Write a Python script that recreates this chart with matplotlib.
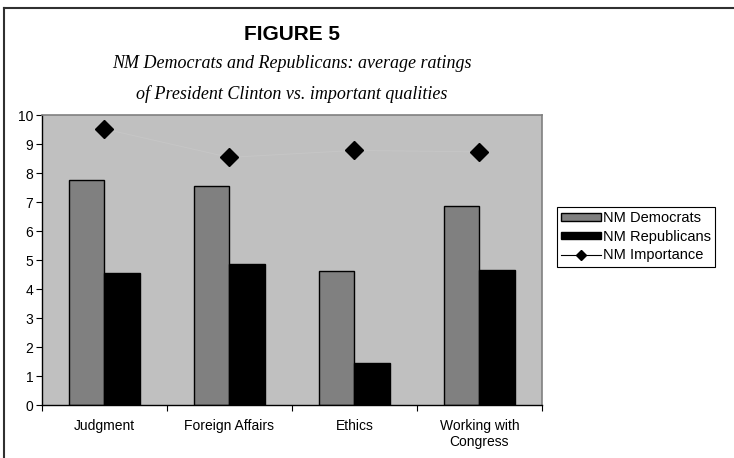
import matplotlib
matplotlib.use("Agg")
import matplotlib.pyplot as plt
from matplotlib.patches import Patch
from matplotlib.lines import Line2D
import numpy as np

categories = ["Judgment", "Foreign Affairs", "Ethics", "Working with\nCongress"]
democrats = [7.77, 7.57, 4.63, 6.85]
republicans = [4.57, 4.86, 1.45, 4.65]
importance = [9.52, 8.54, 8.78, 8.73]
y_ticks = list(range(0, 11))

W, H = 734, 458
fig = plt.figure(figsize=(W / 100, H / 100), dpi=100)
fig.patch.set_facecolor("white")

# outer frame (top and left edges visible)
fig.add_artist(Line2D([4 / W, 1.0], [1 - 8 / H, 1 - 8 / H], color="#303030", lw=1.5,
                      transform=fig.transFigure))
fig.add_artist(Line2D([4 / W, 4 / W], [1 - 8 / H, 0.0], color="#303030", lw=1.5,
                      transform=fig.transFigure))

ax = fig.add_axes([41.7 / W, (H - 405.3) / H, 500.3 / W, 290.3 / H])
ax.set_facecolor("#c0c0c0")

x = np.arange(len(categories))
bw = 1 / 3.5
ax.bar(x - bw / 2, democrats, width=bw, color="#808080", edgecolor="black", linewidth=1.0, zorder=2)
ax.bar(x + bw / 2, republicans, width=bw, color="black", edgecolor="black", linewidth=1.0, zorder=2)
ax.plot(x, importance, color="#c6c6c6", lw=0.7, zorder=3)
ax.plot(x, importance, linestyle="none", marker="D", ms=8.7, color="black", zorder=4)

ax.set_xlim(-0.5, len(categories) - 0.5)
ax.set_ylim(0, 10)
ax.set_yticks(y_ticks)
ax.set_yticklabels([str(v) for v in y_ticks], fontsize=10, family="Liberation Sans")
ax.set_xticks(np.arange(-0.5, len(categories)), minor=False)
ax.set_xticklabels([""] * (len(categories) + 1))
ax.set_xticks(x, minor=True)
ax.set_xticklabels(categories, minor=True, fontsize=10, family="Liberation Sans",
                   linespacing=1.15)
ax.tick_params(axis="x", which="major", direction="out", length=4, width=0.8)
ax.tick_params(axis="x", which="minor", length=0, pad=10)
ax.tick_params(axis="y", direction="out", length=4, width=0.8, pad=2)

for s in ["left", "bottom"]:
    ax.spines[s].set_color("black")
    ax.spines[s].set_linewidth(1.0)
for s in ["top", "right"]:
    ax.spines[s].set_color("#808080")
    ax.spines[s].set_linewidth(1.2)

handles = [
    Patch(facecolor="#808080", edgecolor="black", linewidth=1.0),
    Patch(facecolor="black", edgecolor="black"),
    Line2D([], [], color="black", lw=0.8, marker="D", ms=5),
]
labels = ["NM Democrats", "NM Republicans", "NM Importance"]
leg = fig.legend(handles, labels, loc="upper left", bbox_to_anchor=(557 / W, 1 - 207 / H),
                 frameon=True, fancybox=False, edgecolor="black", framealpha=1,
                 prop={"family": "Liberation Sans", "size": 10.5}, handlelength=2.7,
                 handleheight=0.45, handletextpad=0.15, borderpad=0.3, labelspacing=0.3,
                 borderaxespad=0)
leg.get_frame().set_linewidth(0.8)

cx = (41.7 + 542) / 2 / W
fig.text(cx, 1 - 34 / H, "FIGURE 5", ha="center", va="center", fontsize=15,
         fontweight="bold", family="Liberation Sans")
fig.text(cx, 1 - 64 / H, "NM Democrats and Republicans: average ratings", ha="center",
         va="center", fontsize=13, style="italic", family="Liberation Serif")
fig.text(cx, 1 - 94 / H, "of President Clinton vs. important qualities", ha="center",
         va="center", fontsize=13, style="italic", family="Liberation Serif")

fig.savefig("out.png", dpi=100, facecolor="white")
